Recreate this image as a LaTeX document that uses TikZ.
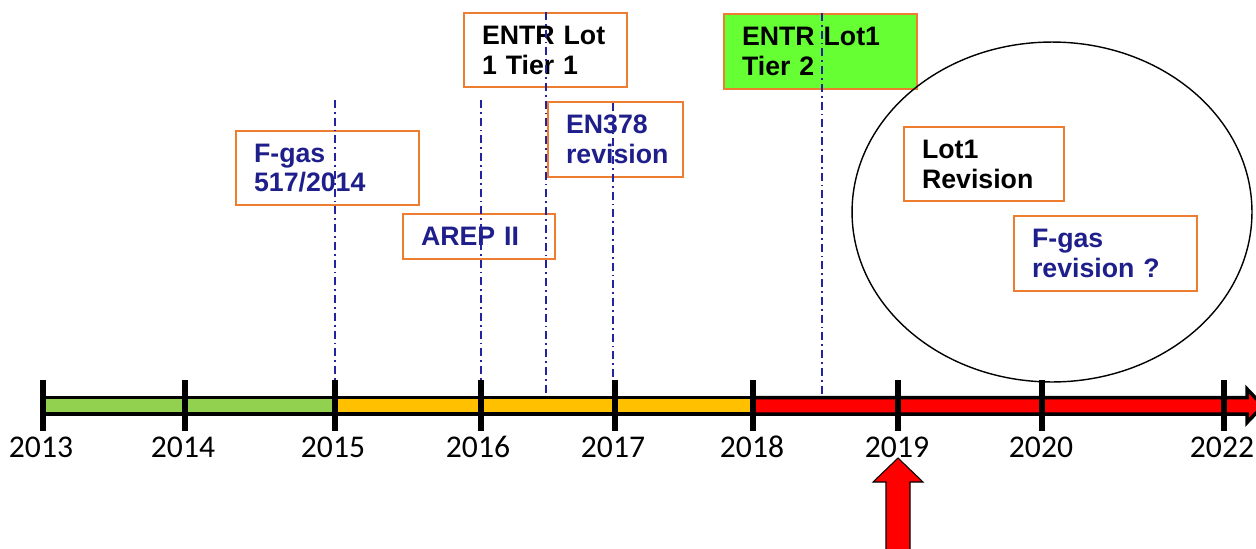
\documentclass[tikz,border=0pt]{standalone}
\usepackage{fontspec}
\setmainfont{Liberation Sans}
\newfontfamily\yearfont{Carlito}
\usetikzlibrary{shapes.geometric}

\definecolor{boxorange}{HTML}{ED7D31}
\definecolor{navytext}{HTML}{1F1F8C}
\definecolor{guideblue}{HTML}{2323A0}
\definecolor{bargreen}{HTML}{92D050}
\definecolor{baryellow}{HTML}{FFC000}
\definecolor{tiergreen}{HTML}{66FF33}

\begin{document}
\begin{tikzpicture}[x=0.02cm, y=-0.02cm,
	box/.style={rectangle, draw=boxorange, line width=1.2pt, fill=white, anchor=north west,
		align=left, inner xsep=0.36cm, inner ysep=0pt, font=\bfseries\fontsize{15.2}{17}\selectfont},
	guide/.style={draw=guideblue, line width=1.1pt, dash pattern=on 4.5pt off 2.3pt on 1pt off 2.3pt},
	tick/.style={line width=3pt},
	bar/.style={draw=black, line width=2pt},
	year/.style={anchor=base, font=\yearfont\fontsize{18}{20}\selectfont}]
	\clip (0,0) rectangle (1256,548);

	% events
	\draw
	(235,130) node [box, text=navytext, text width=2.94cm, minimum height=1.48cm] (fgas) {F-gas\\517/2014}
	(402,213) node [box, text=navytext, text width=2.32cm, minimum height=0.9cm] (arep) {AREP II}
	(463,12) node [box, text width=2.54cm, minimum height=1.48cm] (tierone) {ENTR Lot\\1 Tier 1}
	(547,101) node [box, text=navytext, text width=1.98cm, minimum height=1.5cm] (enrev) {EN378\\revision}
	(723,13) node [box, fill=tiergreen, text width=3.14cm, minimum height=1.5cm] (tiertwo) {ENTR Lot1\\Tier 2};

	% what comes next
	\node [draw, ellipse, line width=0.8pt, minimum width=8cm, minimum height=6.8cm] (future) at (1052,212) {};
	\draw
	(903,126) node [box, text width=2.48cm, minimum height=1.48cm] (lotrev) {Lot1\\Revision}
	(1013,215) node [box, text=navytext, text width=2.94cm, minimum height=1.5cm] (fgasrev) {F-gas\\revision ?};

	% guide lines
	\coordinate (g1top) at (335,100);
	\coordinate (g1bot) at (335,402);
	\coordinate (g2top) at (481,100);
	\coordinate (g2bot) at (481,400);
	\coordinate (g3top) at (546,12);
	\coordinate (g3bot) at (546,403);
	\coordinate (g4top) at (613,103);
	\coordinate (g4bot) at (613,400);
	\coordinate (g5top) at (822,13);
	\coordinate (g5bot) at (822,403);
	\draw[guide] (g1top) -- (g1bot);
	\draw[guide] (g2top) -- (g2bot);
	\draw[guide] (g3top) -- (g3bot);
	\draw[guide] (g4top) -- (g4bot);
	\draw[guide] (g5top) -- (g5bot);

	% time axis
	\draw[bar, fill=bargreen] (43,397.5) rectangle (335,414);
	\draw[bar, fill=baryellow] (335,397.5) rectangle (753,414);
	\draw[bar, fill=red] (753,397.5) -- (1247,397.5) -- (1247,389) -- (1263,405.75)
		-- (1247,422.5) -- (1247,414) -- (753,414) -- cycle;

	\draw[tick] (43,380) -- (43,431);
	\draw[tick] (185,380) -- (185,431);
	\draw[tick] (335,380) -- (335,431);
	\draw[tick] (481,380) -- (481,431);
	\draw[tick] (615,380) -- (615,431);
	\draw[tick] (753,380) -- (753,431);
	\draw[tick] (898,380) -- (898,431);
	\draw[tick] (1042,380) -- (1042,431);
	\draw[tick] (1224,380) -- (1224,431);

	\draw
	(41,457) node [year] (y2013) {2013}
	(183,457) node [year] (y2014) {2014}
	(333,457) node [year] (y2015) {2015}
	(478,457) node [year] (y2016) {2016}
	(613,457) node [year] (y2017) {2017}
	(752,457) node [year] (y2018) {2018}
	(897,457) node [year] (y2019) {2019}
	(1041,457) node [year] (y2020) {2020}
	(1222,457) node [year] (y2022) {2022};

	% we are here
	\draw[line width=0.6pt, fill=red] (898,458) -- (923,482) -- (910,482) -- (910,560)
		-- (886,560) -- (886,482) -- (873,482) -- cycle;
\end{tikzpicture}
\end{document}
